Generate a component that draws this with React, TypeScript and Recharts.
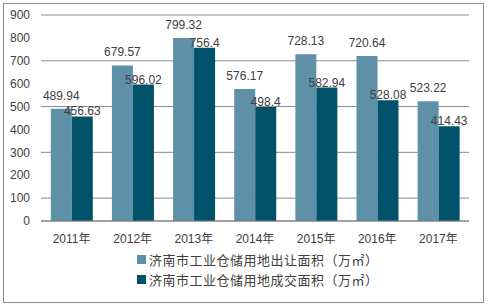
import { BarChart, Bar, XAxis, YAxis, CartesianGrid, Legend, LabelList } from "recharts";

const years = ["2011年", "2012年", "2013年", "2014年", "2015年", "2016年", "2017年"];
const transferArea = [489.94, 679.57, 799.32, 576.17, 728.13, 720.64, 523.22];
const dealArea = [456.63, 596.02, 756.4, 498.4, 582.94, 528.08, 414.43];
const yTicks = [0, 100, 200, 300, 400, 500, 600, 700, 800, 900];

const SERIES = [
  { key: "transfer", name: "济南市工业仓储用地出让面积（万㎡）", color: "#5E90A7", labelOffset: 9 },
  { key: "deal", name: "济南市工业仓储用地成交面积（万㎡）", color: "#00516A", labelOffset: 1 },
];

const data = years.map((year, i) => ({
  year,
  transfer: transferArea[i],
  deal: dealArea[i],
}));

const FONT = "'Liberation Sans', 'Noto Sans CJK SC', sans-serif";

function LegendBox() {
  return (
    <div style={{ paddingLeft: 137, fontFamily: FONT, fontSize: 13, color: "#404040", letterSpacing: 0.5 }}>
      {SERIES.map((s) => (
        <div key={s.key} style={{ display: "flex", alignItems: "center", height: 20 }}>
          <span style={{ width: 9, height: 9, background: s.color, marginRight: 3, display: "inline-block" }} />
          <span>{s.name}</span>
        </div>
      ))}
    </div>
  );
}

export default function App() {
  return (
    <div style={{ position: "absolute", left: 0, top: 0, width: 489, height: 307, background: "#fff" }}>
      {/* outer frame */}
      <div
        style={{
          position: "absolute",
          left: 3,
          top: 3,
          width: 481,
          height: 300,
          boxSizing: "border-box",
          border: "1px solid #8a8a8a",
        }}
      />
      <div style={{ position: "absolute", left: 0, top: 0 }}>
        <BarChart
          width={489}
          height={307}
          data={data}
          margin={{ top: 15, right: 20, left: 0, bottom: 8 }}
          barCategoryGap="16%"
          barGap={0}
        >
          <CartesianGrid vertical={false} stroke="#8c8c8c" />
          <XAxis
            dataKey="year"
            tickLine={false}
            axisLine={{ stroke: "#7f7f7f" }}
            tickMargin={7}
            height={28}
            tick={{ fill: "#404040", fontSize: 12, fontFamily: FONT }}
          />
          <YAxis
            width={41}
            domain={[0, 900]}
            ticks={yTicks}
            tickLine={false}
            axisLine={false}
            tickMargin={5}
            tick={{ fill: "#404040", fontSize: 12, fontFamily: FONT }}
          />
          <Legend verticalAlign="bottom" height={50} content={<LegendBox />} />
          {SERIES.map((s) => (
            <Bar key={s.key} dataKey={s.key} name={s.name} fill={s.color} isAnimationActive={false}>
              <LabelList
                dataKey={s.key}
                position="top"
                offset={s.labelOffset}
                style={{ fill: "#404040", fontSize: 12, fontFamily: FONT }}
              />
            </Bar>
          ))}
        </BarChart>
      </div>
    </div>
  );
}
